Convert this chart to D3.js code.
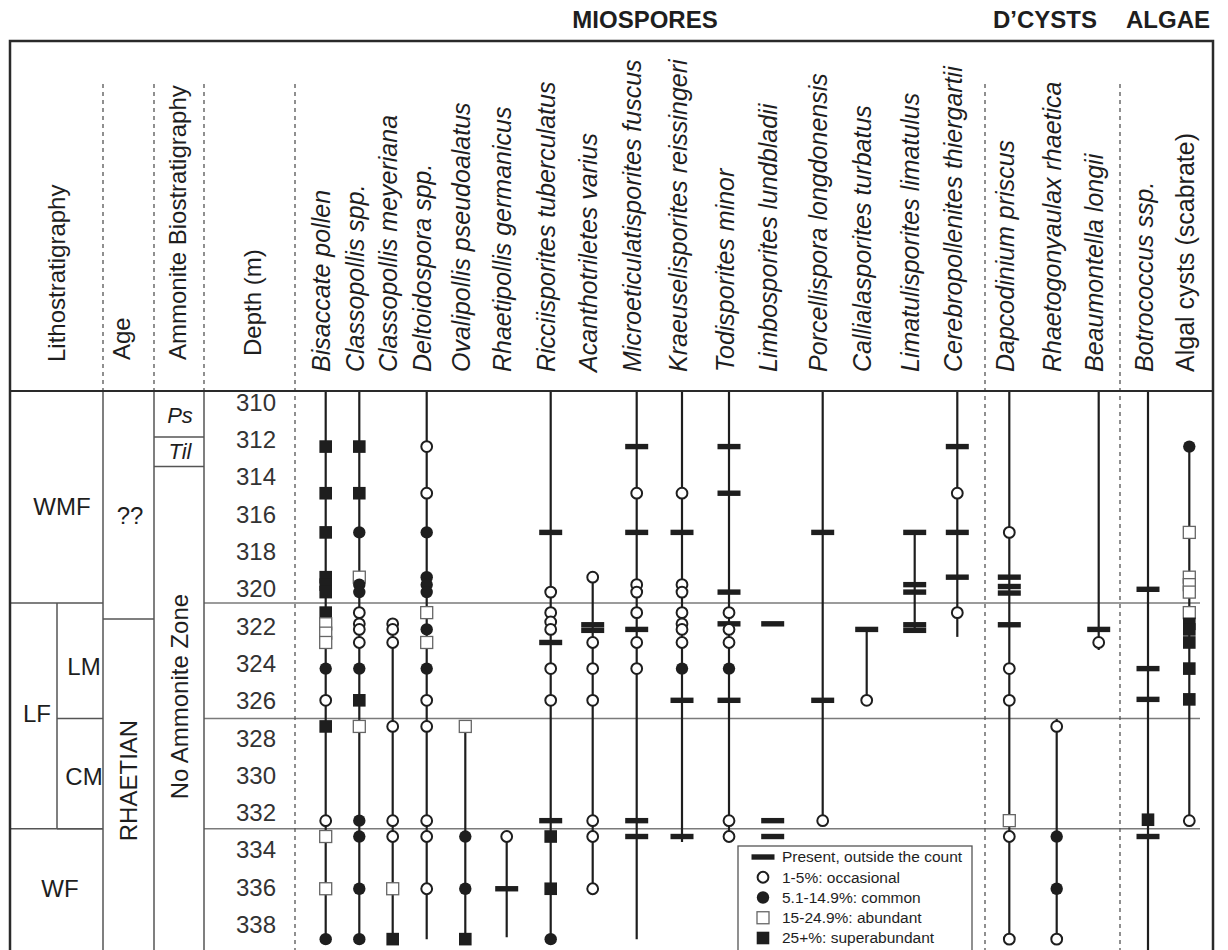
<!DOCTYPE html>
<html><head><meta charset="utf-8">
<script src="https://cdn.jsdelivr.net/npm/d3@7"></script>
<style>body{margin:0;background:#fff;}svg{display:block;}</style>
</head><body><svg id="c" width="1228" height="950"></svg>
<script>
// ---------------- DATA ----------------
const groupTitles = ["MIOSPORES", "D\u2019CYSTS", "ALGAE"];
const leftHeaders = ["Lithostratigraphy", "Age", "Ammonite Biostratigraphy", "Depth (m)"];
const depthTicks = [310,312,314,316,318,320,322,324,326,328,330,332,334,336,338];

const taxa = ["Bisaccate pollen","Classopollis spp.","Classopollis meyeriana","Deltoidospora spp.",
  "Ovalipollis pseudoalatus","Rhaetipollis germanicus","Ricciisporites tuberculatus","Acanthotriletes varius",
  "Microeticulatisporites fuscus","Kraeuselisporites reissingeri","Todisporites minor","Limbosporites lundbladii",
  "Porcellispora longdonensis","Callialasporites turbatus","Limatulisporites limatulus","Cerebropollenites thiergartii",
  "Dapcodinium priscus","Rhaetogonyaulax rhaetica","Beaumontella longii","Botrococcus ssp.","Algal cysts (scabrate)"];
const taxonItalic = taxa.map(t => t !== "Algal cysts (scabrate)");

// range of each taxon (null = section top / section base, NaN = no range line)
const rangeTop  = [null,null,321.9,null,327.4,333.3,null,319.4,null,null,null,NaN,null,322.2,317.0,null,null,327.0,null,null,312.4];
const rangeBase = [338.8,338.8,338.8,338.8,338.8,338.7,338.8,336.1,338.8,333.6,333.3,NaN,332.45,326.0,322.25,322.6,338.8,338.8,323.3,null,332.45];

// P = present outside count, o = occasional, c = common, a = abundant, s = superabundant
const occurrences = [
  [[312.4,"s"],[314.9,"s"],[317.0,"s"],[319.4,"s"],[319.8,"s"],[320.2,"s"],[321.3,"s"],[321.9,"a"],[322.4,"a"],[322.9,"a"],[324.3,"c"],[326.0,"o"],[327.4,"s"],[332.45,"o"],[333.3,"a"],[336.1,"a"],[338.8,"c"]],
  [[312.4,"s"],[314.9,"s"],[317.0,"c"],[319.4,"a"],[319.8,"c"],[320.2,"c"],[321.3,"o"],[321.9,"o"],[322.2,"o"],[322.9,"o"],[324.3,"c"],[326.0,"s"],[327.4,"a"],[332.45,"c"],[333.3,"c"],[336.1,"c"],[338.8,"c"]],
  [[321.9,"o"],[322.2,"o"],[322.9,"o"],[327.4,"o"],[332.45,"o"],[333.3,"o"],[336.1,"a"],[338.8,"s"]],
  [[312.4,"o"],[314.9,"o"],[317.0,"c"],[319.4,"c"],[319.8,"c"],[320.2,"c"],[321.3,"a"],[322.2,"c"],[322.9,"a"],[324.3,"c"],[326.0,"o"],[327.4,"o"],[332.45,"o"],[333.3,"o"],[336.1,"o"]],
  [[327.4,"a"],[333.3,"c"],[336.1,"c"],[338.8,"s"]],
  [[333.3,"o"],[336.1,"P"]],
  [[317.0,"P"],[320.2,"o"],[321.3,"o"],[321.8,"o"],[322.2,"o"],[322.9,"P"],[324.3,"o"],[326.0,"o"],[332.45,"P"],[333.3,"s"],[336.1,"s"],[338.8,"c"]],
  [[319.4,"o"],[321.95,"P"],[322.25,"P"],[322.9,"o"],[324.3,"o"],[326.0,"o"],[332.45,"o"],[333.3,"o"],[336.1,"o"]],
  [[312.4,"P"],[314.9,"o"],[317.0,"P"],[319.8,"o"],[320.2,"o"],[321.3,"o"],[322.2,"P"],[322.9,"o"],[324.3,"o"],[332.45,"P"],[333.3,"P"]],
  [[314.9,"o"],[317.0,"P"],[319.8,"o"],[320.2,"o"],[321.3,"o"],[321.9,"o"],[322.2,"o"],[322.9,"o"],[324.3,"c"],[326.0,"P"],[333.3,"P"]],
  [[312.4,"P"],[314.9,"P"],[320.2,"P"],[321.3,"o"],[321.9,"P"],[322.2,"o"],[322.9,"o"],[324.3,"c"],[326.0,"P"],[332.45,"o"],[333.3,"o"]],
  [[321.9,"P"],[332.45,"P"],[333.3,"P"]],
  [[317.0,"P"],[326.0,"P"],[332.45,"o"]],
  [[322.2,"P"],[326.0,"o"]],
  [[317.0,"P"],[319.8,"P"],[320.2,"P"],[321.95,"P"],[322.25,"P"]],
  [[312.4,"P"],[314.9,"o"],[317.0,"P"],[319.4,"P"],[321.3,"o"]],
  [[317.0,"o"],[319.4,"P"],[319.9,"P"],[320.25,"P"],[321.95,"P"],[324.3,"o"],[326.0,"o"],[332.45,"a"],[333.3,"o"],[338.8,"o"]],
  [[327.4,"o"],[333.3,"c"],[336.1,"c"],[338.8,"o"]],
  [[322.2,"P"],[322.9,"o"]],
  [[320.05,"P"],[324.3,"P"],[325.95,"P"],[332.4,"s"],[333.3,"P"]],
  [[312.4,"c"],[317.0,"a"],[319.4,"a"],[319.8,"a"],[320.2,"a"],[321.3,"a"],[321.9,"s"],[322.2,"s"],[322.9,"s"],[324.3,"s"],[325.95,"s"],[332.45,"o"]]
];

// stratigraphic units: [name, topDepth(null = section top), baseDepth(null = section base), labelDepth]
const lithoUnits   = [["WMF",null,320.78,315.6],["LF",320.78,332.89,326.7],["WF",332.89,null,336.1]];
const memberUnits  = [["LM",320.78,326.97,324.2],["CM",326.97,332.89,330.1]];
const ageUnits     = [["??",null,321.64,316.1],["RHAETIAN",321.64,null,330.3]];
const ammoniteUnits= [["Ps",null,311.89,310.7],["Til",311.89,313.47,312.65],["No Ammonite Zone",313.47,null,325.8]];
const boundaryDepths = [320.78, 326.97, 332.89];

const legendLabels = ["Present, outside the count","1-5%: occasional","5.1-14.9%: common","15-24.9%: abundant","25+%: superabundant"];
const legendTypes  = ["P","o","c","a","s"];

// ---------------- LAYOUT ----------------
const FONT = "'Liberation Sans', Arial, Helvetica, sans-serif";
const INK = "#1e1e1e";
const L = 10, R = 1213, T = 41, HB = 391, B = 950;
const colLitho = [10,103], colMember = 57, colAge = [103,154], colAmm = [154,204];
const columnX = [325.7,359.3,392.7,426.7,465.3,506.7,550.7,592.7,636.7,682,729,772.7,822.7,866.7,914.7,957.3,1009.3,1056.7,1098.7,1148,1189.3];

const svg = d3.select("#c");
svg.append("rect").attr("width",1228).attr("height",950).attr("fill","#fff");

const y = d3.scaleLinear().domain([310,338]).range([401.8,924.2]);
const x = d3.scaleOrdinal().domain(taxa).range(columnX);
const yTop = HB, yBot = B;
const yy = d => d === null ? null : y(d);

// ---- horizontal boundary lines in data area
svg.append("g").selectAll("line").data(boundaryDepths).join("line")
  .attr("x1",colAmm[1]).attr("x2",1200).attr("y1",d=>y(d)).attr("y2",d=>y(d))
  .attr("stroke","#7a7a7a").attr("stroke-width",1.5);

// ---- unit boxes (litho, member, age, ammonite)
const struct = svg.append("g").attr("stroke","#555").attr("stroke-width",1.5);
function unitLines(units, x0, x1){
  units.forEach(u => { if (u[2] !== null) struct.append("line").attr("x1",x0).attr("x2",x1).attr("y1",y(u[2])).attr("y2",y(u[2])); });
}
unitLines(lithoUnits, colLitho[0], colLitho[1]);
unitLines(memberUnits, colMember, colLitho[1]);
unitLines(ageUnits, colAge[0], colAge[1]);
unitLines(ammoniteUnits, colAmm[0], colAmm[1]);
[colLitho[1], colAge[1], colAmm[1]].forEach(xx => struct.append("line").attr("x1",xx).attr("x2",xx).attr("y1",HB).attr("y2",B));
struct.append("line").attr("x1",colMember).attr("x2",colMember).attr("y1",y(memberUnits[0][1])).attr("y2",y(memberUnits[1][2]));

// ---- dashed separators
const dash = svg.append("g").attr("stroke","#555").attr("stroke-width",1.3).attr("stroke-dasharray","4,4");
[103,154,204].forEach(xx => dash.append("line").attr("x1",xx).attr("x2",xx).attr("y1",84).attr("y2",HB));
[295,985,1120].forEach(xx => dash.append("line").attr("x1",xx).attr("x2",xx).attr("y1",84).attr("y2",B));

// ---- unit labels
function txt(g, s, xx, yv, size, opts={}){
  const t = g.append("text").text(s).attr("font-family",FONT).attr("font-size",size).attr("fill",INK)
    .attr("text-anchor", opts.anchor || "middle").attr("dy", opts.dy || "0.35em");
  if (opts.italic) t.attr("font-style","italic");
  if (opts.bold) t.attr("font-weight","bold");
  if (opts.rotate) t.attr("transform",`translate(${xx},${yv}) rotate(-90)`);
  else t.attr("x",xx).attr("y",yv);
  return t;
}
const labels = svg.append("g");
const lithoX = {WMF:62, LF:37, WF:60};
lithoUnits.forEach(u => txt(labels,u[0],lithoX[u[0]],y(u[3]),24));
memberUnits.forEach(u => txt(labels,u[0],84,y(u[3]),24));
txt(labels, ageUnits[0][0], 130, y(ageUnits[0][3]), 24);
txt(labels, ageUnits[1][0], 129, y(ageUnits[1][3]), 24, {rotate:true});
txt(labels, ammoniteUnits[0][0], 180, y(ammoniteUnits[0][3]), 22, {italic:true});
txt(labels, ammoniteUnits[1][0], 180, y(ammoniteUnits[1][3]), 22, {italic:true});
txt(labels, ammoniteUnits[2][0], 180, y(ammoniteUnits[2][3]), 24, {rotate:true});

// ---- depth axis
const ax = svg.append("g").attr("transform","translate(256,0)")
  .call(d3.axisRight(y).tickValues(depthTicks).tickSize(0).tickFormat(d3.format("d")));
ax.select(".domain").remove();
ax.selectAll("text").attr("x",0).attr("dy","0.35em").attr("text-anchor","middle")
  .attr("font-size",24).attr("font-family",FONT).attr("fill","#333");

// ---- header labels
const hdrX = [57, 122, 178, 253], hdrB = [362, 360, 360, 356];
leftHeaders.forEach((h,i) => txt(labels, h, hdrX[i], hdrB[i], 24, {rotate:true, anchor:"start"}));
taxa.forEach((t,i) => txt(labels, t, x(t)-4, 372, 25, {rotate:true, anchor:"start", italic:taxonItalic[i]}));
const titleX = [645, 1045, 1168];
groupTitles.forEach((g,i) => txt(labels, g, titleX[i], 28, 24, {bold:true, dy:"0"}));

// ---- range lines
const ranges = svg.append("g").attr("stroke",INK).attr("stroke-width",2.2);
taxa.forEach((t,i) => {
  if (Number.isNaN(rangeTop[i])) return;
  const y1 = rangeTop[i] === null ? yTop : y(rangeTop[i]);
  const y2 = rangeBase[i] === null ? yBot : y(rangeBase[i]);
  ranges.append("line").attr("x1",x(t)).attr("x2",x(t)).attr("y1",y1).attr("y2",y2);
});

// ---- markers
function drawMarker(g, type){
  if (type === "P") g.append("rect").attr("x",-11.5).attr("y",-2.7).attr("width",23).attr("height",5.4).attr("fill",INK);
  else if (type === "o") g.append("circle").attr("r",5.4).attr("fill","#fff").attr("stroke",INK).attr("stroke-width",2);
  else if (type === "c") g.append("circle").attr("r",6.2).attr("fill",INK);
  else if (type === "a") g.append("rect").attr("x",-6).attr("y",-6).attr("width",12).attr("height",12).attr("fill","#fff").attr("stroke","#666").attr("stroke-width",1.3);
  else if (type === "s") g.append("rect").attr("x",-6.3).attr("y",-6.3).attr("width",12.6).attr("height",12.6).attr("fill",INK);
}
const marks = svg.append("g");
taxa.forEach((t,i) => {
  marks.append("g").selectAll("g").data(occurrences[i]).join("g")
    .attr("transform", d => `translate(${x(t)},${y(d[0])})`)
    .each(function(d){ drawMarker(d3.select(this), d[1]); });
});

// ---- legend
const lg = svg.append("g");
lg.append("rect").attr("x",738).attr("y",846).attr("width",234).attr("height",110)
  .attr("fill","#fff").attr("stroke","#555").attr("stroke-width",1.3);
const legY = d3.scalePoint().domain(legendLabels).range([857,938]);
legendLabels.forEach((lab,i) => {
  const g = lg.append("g").attr("transform",`translate(763,${legY(lab)})`);
  drawMarker(g, legendTypes[i]);
  lg.append("text").attr("x",782).attr("y",legY(lab)).attr("dy","0.35em").text(lab)
    .attr("font-family",FONT).attr("font-size",15.5).attr("fill",INK);
});

// ---- frame
const fr = svg.append("g").attr("stroke","#2a2a2a").attr("stroke-width",2.5).attr("fill","none");
fr.append("path").attr("d",`M${L},${B}V${T}H${R}V${B}`);
fr.append("line").attr("x1",L).attr("x2",R).attr("y1",HB).attr("y2",HB).attr("stroke-width",2.2);
</script></body></html>
